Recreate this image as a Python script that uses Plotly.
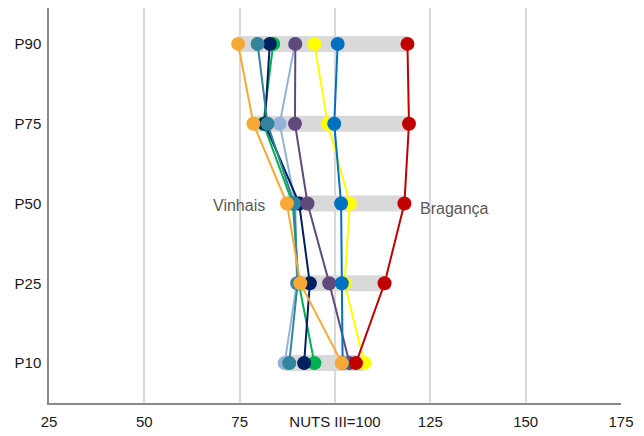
import plotly.graph_objects as go

categories = ["P10", "P25", "P50", "P75", "P90"]

# series values in order P10, P25, P50, P75, P90
series_names = ["Alfândega da Fé", "Mirandela", "Mogadouro", "Miranda do Douro",
                "Vimioso", "Macedo de Cavaleiros", "Vila Flor", "Vinhais", "Bragança"]
series_colors = ["#95B3D7", "#00B050", "#002060", "#31849B", "#604A7B",
                 "#FFFF00", "#0070C0", "#F6A935", "#C00000"]
alfandega = [86.8, 90.0, 89.6, 85.5, 89.5]
mirandela = [94.6, 90.5, 88.9, 81.2, 83.8]
mogadouro = [91.9, 93.4, 90.6, 81.6, 82.9]
miranda = [88.0, 90.2, 89.3, 82.3, 79.7]
vimioso = [103.8, 98.5, 92.8, 89.5, 89.6]
macedo = [107.7, 102.5, 103.9, 98.1, 94.6]
vila_flor = [102.0, 101.8, 101.6, 99.8, 100.7]
vinhais = [101.8, 90.9, 87.4, 78.6, 74.6]
braganca = [105.5, 113.0, 118.2, 119.4, 119.0]
all_series = [alfandega, mirandela, mogadouro, miranda, vimioso,
              macedo, vila_flor, vinhais, braganca]

x_tickvals = [25, 50, 75, 100, 125, 150, 175]
x_ticktext = ["25", "50", "75", "NUTS III=100", "125", "150", "175"]

mins = [min(s[i] for s in all_series) for i in range(len(categories))]
maxs = [max(s[i] for s in all_series) for i in range(len(categories))]

fig = go.Figure()
fig.add_trace(go.Bar(
    y=categories, x=[b - a for a, b in zip(mins, maxs)], base=mins,
    orientation="h", width=0.2, marker=dict(color="#D9D9D9", line=dict(width=0)),
    showlegend=False, hoverinfo="skip"))

for name, color, vals in zip(series_names, series_colors, all_series):
    fig.add_trace(go.Scatter(
        x=vals, y=categories, mode="lines+markers", name=name,
        line=dict(color=color, width=2),
        marker=dict(color=color, size=14), showlegend=False, cliponaxis=False))

fig.add_annotation(x=vinhais[2], y="P50", text="Vinhais", showarrow=False,
                   xanchor="right", xshift=-20, yshift=-2,
                   font=dict(size=16, color="#595959", family="Liberation Sans, Arial"))
fig.add_annotation(x=braganca[2], y="P50", text="Bragança", showarrow=False,
                   xanchor="left", xshift=14, yshift=-5,
                   font=dict(size=16, color="#595959", family="Liberation Sans, Arial"))

fig.update_layout(
    width=644, height=436,
    margin=dict(l=41, r=31, t=0, b=41, autoexpand=False),
    plot_bgcolor="white", paper_bgcolor="white",
    font=dict(family="Liberation Sans, Arial", size=15, color="#1a1a1a"),
    barmode="overlay",
)
fig.update_xaxes(range=[25, 175], tickvals=x_tickvals, ticktext=x_ticktext,
                 showgrid=True, gridcolor="#D9D9D9", gridwidth=1.5,
                 showline=True, linecolor="#898989", linewidth=1.5,
                 zeroline=False, ticks="", automargin=False,
                 ticklabelstandoff=4, tickfont=dict(size=15))
fig.update_yaxes(type="category", categoryorder="array", categoryarray=categories,
                 range=[-0.5, 4.45], showgrid=False,
                 showline=True, linecolor="#898989", linewidth=1.5,
                 ticks="", ticklabelstandoff=3, automargin=False,
                 tickfont=dict(size=15))

fig.write_html("out.html")
